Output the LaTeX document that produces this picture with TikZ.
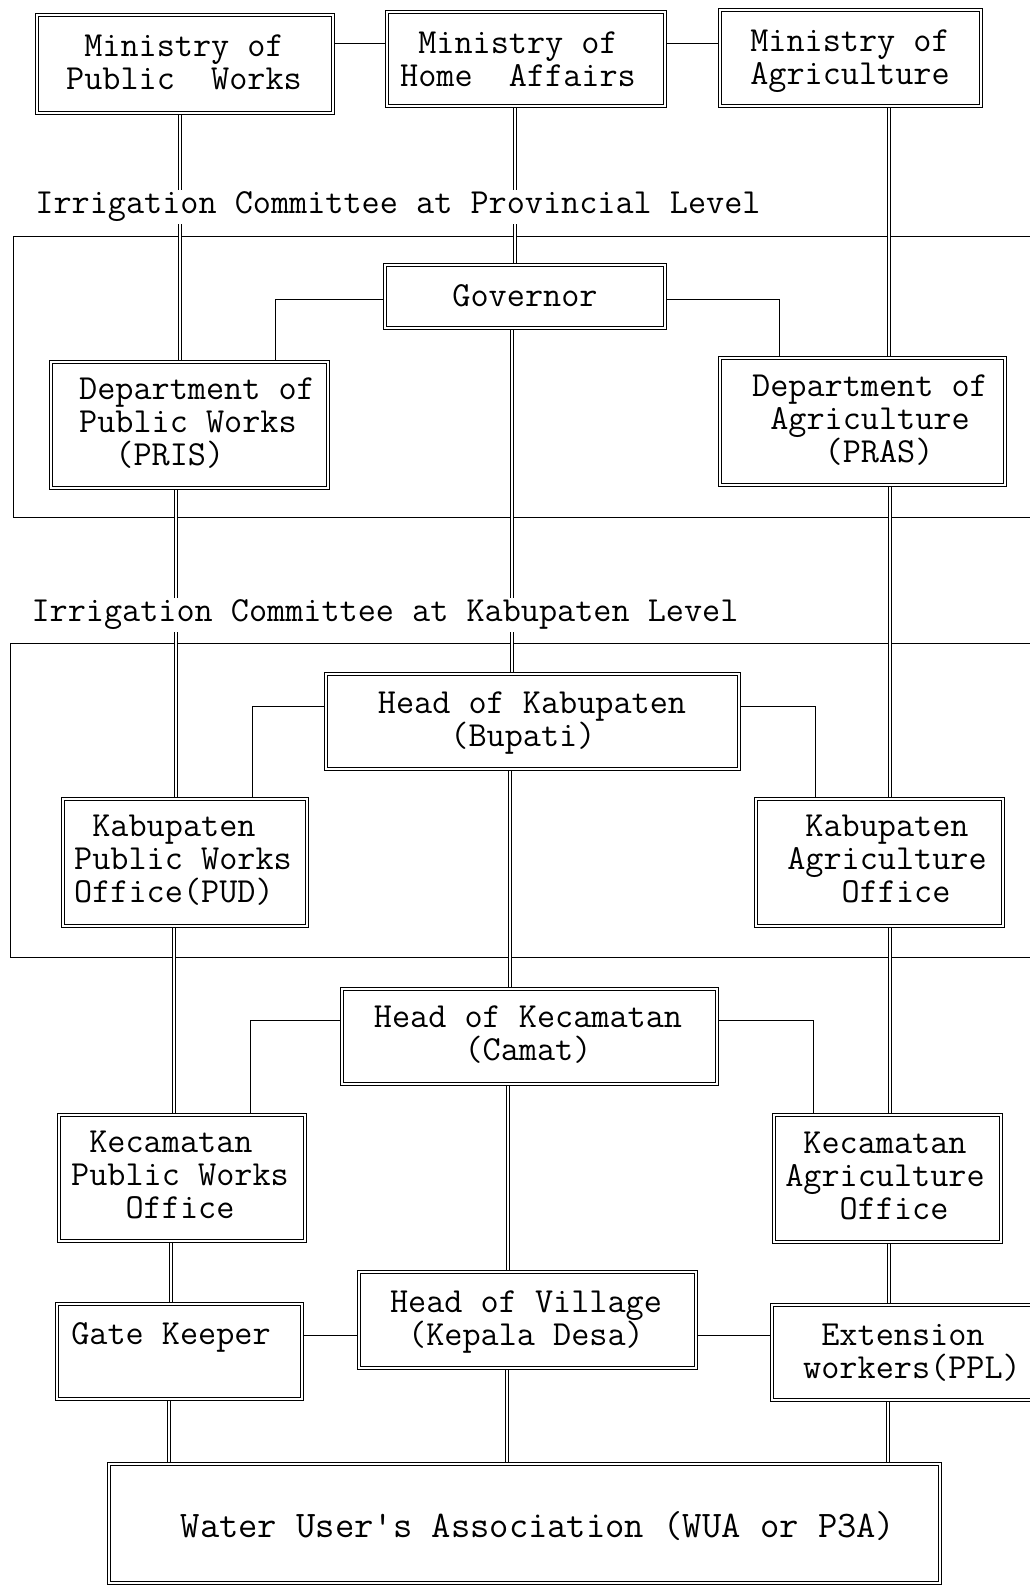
\documentclass[tikz,border=0pt]{standalone}
\usepackage{fontspec}
\usetikzlibrary{backgrounds}
\begin{document}
\begin{tikzpicture}[x=1pt,y=-1pt,
  box/.style={draw, line width=0.9pt, double=white, double distance=2.4pt, fill=white, inner sep=0pt, outer sep=0pt},
  trunk/.style={line width=1pt, double=white, double distance=1.6pt},
  conn/.style={line width=0.9pt},
  frame/.style={line width=0.9pt},
  txt/.style={font=\fontsize{35.2}{33}\selectfont\ttfamily, align=left, inner sep=0pt},
  ctxt/.style={txt, align=center},
  lab/.style={txt, fill=white, inner ysep=2pt, inner xsep=0pt}]
\clip (0,0) rectangle (1030,1588);
% boxes
\node[box, minimum width=296, minimum height=98]  (MPW)   at (185,64) {};
\node[box, minimum width=278, minimum height=94]  (MHA)   at (526,59) {};
\node[box, minimum width=261, minimum height=96]  (MA)    at (850.5,58) {};
\node[box, minimum width=280, minimum height=63]  (GOV)   at (525,296.5) {};
\node[box, minimum width=277, minimum height=126] (DPW)   at (189.5,425) {};
\node[box, minimum width=285, minimum height=127] (DA)    at (862.5,421.5) {};
\node[box, minimum width=413, minimum height=95]  (HOK)   at (532.5,721.5) {};
\node[box, minimum width=244, minimum height=127] (KPW)   at (185,862.5) {};
\node[box, minimum width=247, minimum height=127] (KAO)   at (879.5,862.5) {};
\node[box, minimum width=375, minimum height=95]  (HOKEC) at (529.5,1036.5) {};
\node[box, minimum width=246, minimum height=126] (KECPW) at (182,1178) {};
\node[box, minimum width=227, minimum height=127] (KECAO) at (887.5,1178.5) {};
\node[box, minimum width=245, minimum height=95]  (GK)    at (179.5,1351.5) {};
\node[box, minimum width=337, minimum height=96]  (HOV)   at (527.5,1320) {};
\node[box, minimum width=266, minimum height=95]  (EW)    at (905,1352.5) {};
\node[box, minimum width=831, minimum height=119] (WUA)   at (524.5,1523.5) {};
% texts
\node[ctxt] (tMPW) at (184,62) {Ministry of\\Public\ \ Works};
\node[ctxt] (tMHA) at (518,59) {Ministry of\\Home\ \ Affairs};
\node[ctxt] (tMA) at (850,61) {Ministry of\\Agriculture};
\node[txt] (tGOV) at (525,296) {Governor};
\node[txt] (tDPW) at (197,423) {Department of\\Public Works\\\phantom{xx}(PRIS)};
\node[txt] (tDA) at (870,420) {Department of\\\phantom{x}Agriculture\\\phantom{xxxx}(PRAS)};
\node[txt] (tHOK) at (532,723) {Head of Kabupaten\\\phantom{xxxx}(Bupati)};
\node[txt] (tKPW) at (183,860) {\phantom{x}Kabupaten\\Public Works\\Office(PUD)};
\node[txt] (tKAO) at (887,859) {\phantom{x}Kabupaten\\Agriculture\\\phantom{xxx}Office};
\node[txt] (tHOKEC) at (528,1035) {Head of Kecamatan\\\phantom{xxxxx}(Camat)};
\node[txt] (tKECPW) at (180,1175) {\phantom{x}Kecamatan\\Public Works\\\phantom{xxx}Office};
\node[txt] (tKECAO) at (885,1176) {\phantom{x}Kecamatan\\Agriculture\\\phantom{xxx}Office};
\node[txt] (tGK) at (171,1337.5) {Gate Keeper};
\node[txt] (tHOV) at (526,1322) {Head of Village\\\phantom{x}(Kepala Desa)};
\node[txt] (tEW) at (912,1353) {\phantom{x}Extension\\workers(PPL)};
\node[txt, font=\fontsize{37.5}{33}\selectfont\ttfamily] (tWUA) at (538,1526) {Water User's Association (WUA or P3A)};
% level labels
\node[lab] (prov) at (398,207) {Irrigation Committee at Provincial Level};
\node[lab] (kab) at (385,615) {Irrigation Committee at Kabupaten Level};
\begin{pgfonlayer}{background}
\fill[white] (0,0) rectangle (1030,1588);
% committee frames
\draw[frame] (1040,236) -- (13,236) -- (13,517) -- (1040,517);
\draw[frame] (1040,643) -- (10,643) -- (10,957) -- (1040,957);
% column coordinates
\coordinate (a1) at (180,0); \coordinate (a2) at (176,0); \coordinate (a3) at (174,0);
\coordinate (a4) at (171,0); \coordinate (a5) at (169,0);
\coordinate (b1) at (515,0); \coordinate (b2) at (512,0); \coordinate (b3) at (510,0);
\coordinate (b4) at (508,0); \coordinate (b5) at (507,0);
\coordinate (c1) at (889,0); \coordinate (c2) at (890,0); \coordinate (c3) at (890,0);
\coordinate (c4) at (889,0); \coordinate (c5) at (888,0);
% left trunk
\draw[trunk] (MPW.south -| a1) -- (DPW.north -| a1);
\draw[trunk] (DPW.south -| a2) -- (KPW.north -| a2);
\draw[trunk] (KPW.south -| a3) -- (KECPW.north -| a3);
\draw[trunk] (KECPW.south -| a4) -- (GK.north -| a4);
\draw[trunk] (GK.south -| a5) -- (WUA.north -| a5);
% middle trunk
\draw[trunk] (MHA.south -| b1) -- (GOV.north -| b1);
\draw[trunk] (GOV.south -| b2) -- (HOK.north -| b2);
\draw[trunk] (HOK.south -| b3) -- (HOKEC.north -| b3);
\draw[trunk] (HOKEC.south -| b4) -- (HOV.north -| b4);
\draw[trunk] (HOV.south -| b5) -- (WUA.north -| b5);
% right trunk
\draw[trunk] (MA.south -| c1) -- (DA.north -| c1);
\draw[trunk] (DA.south -| c2) -- (KAO.north -| c2);
\draw[trunk] (KAO.south -| c3) -- (KECAO.north -| c3);
\draw[trunk] (KECAO.south -| c4) -- (EW.north -| c4);
\draw[trunk] (EW.south -| c5) -- (WUA.north -| c5);
% ministries
\coordinate (yTop) at (0,43);
\draw[conn] (MPW.east |- yTop) -- (MHA.west |- yTop);
\draw[conn] (MHA.east |- yTop) -- (MA.west |- yTop);
% governor branches
\coordinate (yG) at (0,299); \coordinate (gl) at (275,0); \coordinate (gr) at (779,0);
\draw[conn] (GOV.west |- yG) -| (DPW.north -| gl);
\draw[conn] (GOV.east |- yG) -| (DA.north -| gr);
% bupati branches
\coordinate (yK) at (0,706); \coordinate (kl) at (252,0); \coordinate (kr) at (815,0);
\draw[conn] (HOK.west |- yK) -| (KPW.north -| kl);
\draw[conn] (HOK.east |- yK) -| (KAO.north -| kr);
% camat branches
\coordinate (yC) at (0,1020); \coordinate (el) at (250,0); \coordinate (er) at (813,0);
\draw[conn] (HOKEC.west |- yC) -| (KECPW.north -| el);
\draw[conn] (HOKEC.east |- yC) -| (KECAO.north -| er);
% village level
\coordinate (yV) at (0,1335.5);
\draw[conn] (GK.east |- yV) -- (HOV.west |- yV);
\draw[conn] (HOV.east |- yV) -- (EW.west |- yV);
\end{pgfonlayer}
\end{tikzpicture}
\end{document}
